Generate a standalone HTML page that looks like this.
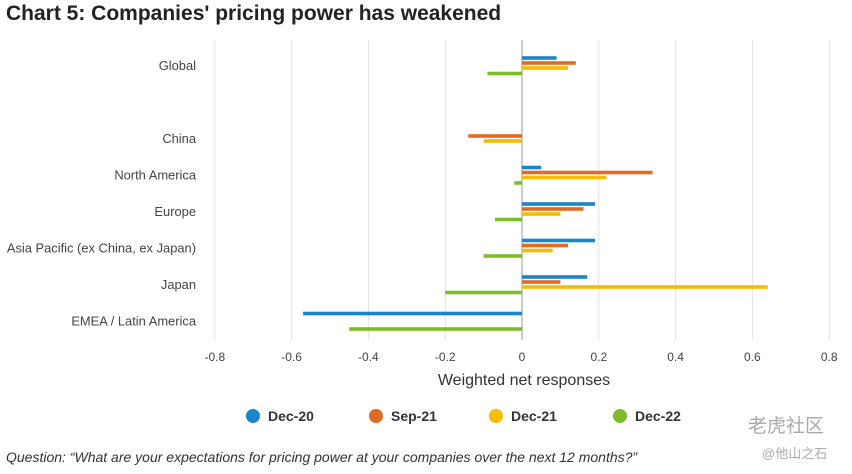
<!DOCTYPE html>
<html><head><meta charset="utf-8">
<style>
body{margin:0;background:#fff;width:852px;height:474px;overflow:hidden;font-family:"Liberation Sans",Arial,sans-serif;}
svg{display:block}
</style></head>
<body>
<svg id="chart" width="852" height="474" xmlns="http://www.w3.org/2000/svg">
<text x="6" y="20" font-size="21" font-weight="bold" fill="#222">Chart 5: Companies' pricing power has weakened</text>
<g id="grid"></g>
<g id="bars"></g>
<g id="labels"></g>
<text x="524" y="385" font-size="16" fill="#333" text-anchor="middle">Weighted net responses</text>
<g id="legend"></g>
<text x="6" y="462" font-size="14" font-style="italic" fill="#333">Question: “What are your expectations for pricing power at your companies over the next 12 months?”</text>
<text x="748" y="432" font-size="19" fill="#aaa" font-family="'Liberation Sans','Noto Sans CJK SC',sans-serif">老虎社区</text>
<text x="762" y="458" font-size="13" fill="#aaa" font-family="'Liberation Sans','Noto Sans CJK SC',sans-serif">@他山之石</text>
</svg>
<script>
const categories=["Global","","China","North America","Europe","Asia Pacific (ex China, ex Japan)","Japan","EMEA / Latin America"];
const seriesNames=["Dec-20","Sep-21","Dec-21","Dec-22"];
const dec20=[0.09,0,0,0.05,0.19,0.19,0.17,-0.57];
const sep21=[0.14,0,-0.14,0.34,0.16,0.12,0.10,0];
const dec21=[0.12,0,-0.10,0.22,0.10,0.08,0.64,0];
const dec22=[-0.09,0,0,-0.02,-0.07,-0.10,-0.20,-0.45];
const ticks=[-0.8,-0.6,-0.4,-0.2,0,0.2,0.4,0.6,0.8];
const tickLabels=["-0.8","-0.6","-0.4","-0.2","0","0.2","0.4","0.6","0.8"];
const colors=["#1a85c8","#e06b25","#f5bc00","#7cbd2a"];
const NS="http://www.w3.org/2000/svg";
function x(v){return 522+v*384;}
function yc(i){return 66+i*36.5;}
function mk(tag,attrs,parent){const e=document.createElementNS(NS,tag);for(const k in attrs)e.setAttribute(k,attrs[k]);document.getElementById(parent).appendChild(e);return e;}
ticks.forEach((t,i)=>{
  const l=mk("line",{x1:x(t),x2:x(t),y1:40,y2:340,stroke:t===0?"#999":"#e2e2e2","stroke-width":1},"grid");
  
  
  const tx=mk("text",{x:x(t),y:361,"font-size":12,fill:"#444","text-anchor":"middle"},"grid");
  tx.textContent=tickLabels[i];
  
  
});
const all=[dec20,sep21,dec21,dec22];
const offs=[-8,-3,2,7.5];
categories.forEach((c,i)=>{
  if(c){
    const t=mk("text",{x:196,y:yc(i)+4,"font-size":12.9,fill:"#444","text-anchor":"end"},"labels");
    t.textContent=c;
    
    
  }
  all.forEach((s,j)=>{
    const v=s[i]; if(!v) return;
    const r=mk("rect",{x:Math.min(x(0),x(v)),y:yc(i)+offs[j]-1.8,width:Math.abs(x(v)-x(0)),height:3.6,fill:colors[j]},"bars");
    
    
  });
});
const lx=[253,376,496,620];
seriesNames.forEach((n,j)=>{
  const g=mk("g",{},"legend");
  
  
  const c=document.createElementNS(NS,"circle");c.setAttribute("cx",lx[j]);c.setAttribute("cy",416);c.setAttribute("r",7);c.setAttribute("fill",colors[j]);g.appendChild(c);
  const t=document.createElementNS(NS,"text");t.setAttribute("x",lx[j]+15);t.setAttribute("y",421);t.setAttribute("font-size",14);t.setAttribute("font-weight","bold");t.setAttribute("fill","#333");t.textContent=n;g.appendChild(t);
});
</script>
</body></html>
